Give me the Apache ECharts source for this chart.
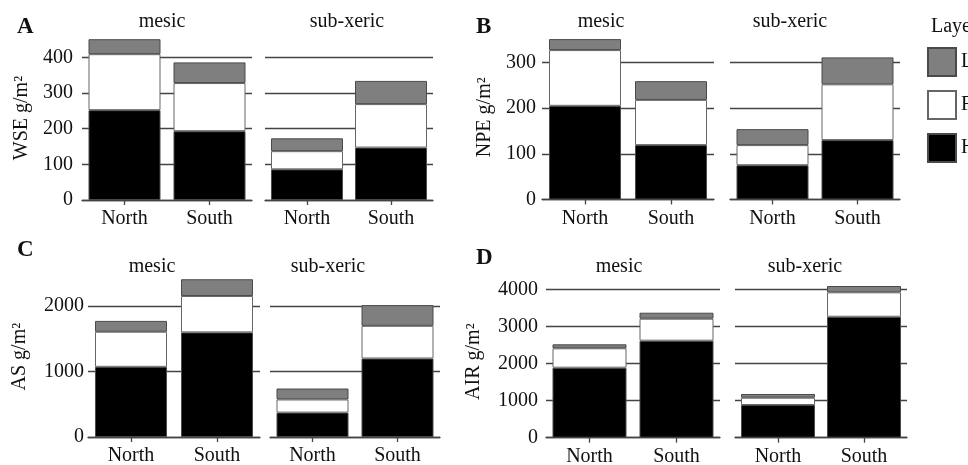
<!DOCTYPE html>
<html>
<head>
<meta charset="utf-8">
<script src="https://cdn.jsdelivr.net/npm/echarts@6/dist/echarts.min.js"></script>
<style>
  html, body { margin: 0; padding: 0; background: #fff; }
  #main { width: 968px; height: 465px; }
</style>
</head>
<body>
<div id="main"></div>
<script>
// categories and groups
var categories = ['North', 'South'];
var regimes = ['mesic', 'sub-xeric'];
var layerNames = ['L', 'F', 'H'];   // legend order, top to bottom

// values: mesic North, mesic South, sub-xeric North, sub-xeric South
var wseH = [252, 193, 86, 147];
var wseF = [157, 135, 51, 122];
var wseL = [42, 58, 36, 65];

var npeH = [205, 119, 75, 130];
var npeF = [122, 99, 44, 122];
var npeL = [24, 41, 35, 59];

var asH = [1070, 1595, 372, 1197];
var asF = [535, 555, 200, 498];
var asL = [165, 255, 167, 316];

var airH = [1887, 2615, 881, 3261];
var airF = [523, 593, 197, 658];
var airL = [107, 161, 100, 170];

// y tick labels per panel
var wseTicks = [0, 100, 200, 300, 400];
var npeTicks = [0, 100, 200, 300];
var asTicks = [0, 1000, 2000];
var airTicks = [0, 1000, 2000, 3000, 4000];

var FONT = "'Liberation Serif', 'Times New Roman', serif";
var FS = 20;

// layout of the 4 panels (pixels)
var panels = [
  { letter: 'A', yName: 'WSE g/m²', H: wseH, F: wseF, L: wseL, ticks: wseTicks, max: 460,
    top: 36, bottom: 200, lefts: [82, 265], widths: [170, 168], barW: 72, nameGap: 50, labelMargin: 9,
    letterPos: [17, 27], regimePos: [[162, 22], [347, 22]] },
  { letter: 'B', yName: 'NPE g/m²', H: npeH, F: npeF, L: npeL, ticks: npeTicks, max: 360,
    top: 35, bottom: 199.5, lefts: [542, 730], widths: [172, 170], barW: 72, nameGap: 47, labelMargin: 6,
    letterPos: [476, 27], regimePos: [[601, 22], [790, 22]] },
  { letter: 'C', yName: 'AS g/m²', H: asH, F: asF, L: asL, ticks: asTicks, max: 2450,
    top: 276.3, bottom: 437, lefts: [88, 270], widths: [172, 170], barW: 72, nameGap: 58, labelMargin: 4,
    letterPos: [17, 250], regimePos: [[152, 267], [328, 267]] },
  { letter: 'D', yName: 'AIR g/m²', H: airH, F: airF, L: airL, ticks: airTicks, max: 4100,
    top: 285.6, bottom: 437.7, lefts: [546, 735], widths: [174, 172], barW: 74, nameGap: 62, labelMargin: 8,
    letterPos: [476, 258], regimePos: [[619, 267], [805, 267]] }
];

var layerStyle = {
  H: { color: '#000000', borderColor: '#4a4a4a', borderWidth: 1 },
  F: { color: '#ffffff', borderColor: '#666666', borderWidth: 1 },
  L: { color: '#7f7f7f', borderColor: '#4a4a4a', borderWidth: 1 }
};

var grids = [], xAxes = [], yAxes = [], series = [], graphics = [];

panels.forEach(function (p) {
  var interval = p.ticks[1] - p.ticks[0];
  for (var s = 0; s < 2; s++) {
    var gi = grids.length;
    grids.push({
      left: p.lefts[s], top: p.top, width: p.widths[s], height: p.bottom - p.top,
      outerBoundsMode: 'none', containLabel: false
    });
    xAxes.push({
      type: 'category', gridIndex: gi, data: categories,
      axisLine: { lineStyle: { color: '#444', width: 1.3 } },
      axisTick: { show: true, alignWithLabel: true, length: 5, lineStyle: { color: '#444', width: 1.3 } },
      axisLabel: { color: '#111', fontSize: FS, fontFamily: FONT, margin: 9 },
      splitLine: { show: false }
    });
    yAxes.push({
      type: 'value', gridIndex: gi, min: 0, max: p.max, interval: interval,
      name: s === 0 ? p.yName : '', nameLocation: 'middle', nameRotate: 90, nameGap: p.nameGap,
      nameTextStyle: { color: '#111', fontSize: FS, fontFamily: FONT },
      axisLine: { show: false }, axisTick: { show: false },
      axisLabel: { show: s === 0, color: '#111', fontSize: FS, fontFamily: FONT,
        margin: p.labelMargin, showMaxLabel: false,
        formatter: function (v) { return String(v); } },
      splitLine: { show: true, showMaxLine: false, lineStyle: { color: '#444', width: 1.3 } }
    });
    ['H', 'F', 'L'].forEach(function (layer) {
      series.push({
        name: layer, type: 'bar', stack: 'p' + gi,
        xAxisIndex: gi, yAxisIndex: gi, barWidth: p.barW,
        itemStyle: layerStyle[layer], silent: true,
        data: p[layer].slice(s * 2, s * 2 + 2)
      });
    });
    graphics.push({
      type: 'text', x: p.regimePos[s][0], y: p.regimePos[s][1],
      style: { text: regimes[s], fill: '#111', font: FS + 'px ' + FONT, textAlign: 'center', textVerticalAlign: 'middle' }
    });
  }
  graphics.push({
    type: 'text', x: p.letterPos[0], y: p.letterPos[1],
    style: { text: p.letter, fill: '#111', font: 'bold 23px ' + FONT, textAlign: 'left', textVerticalAlign: 'middle' }
  });
});

graphics.push({
  type: 'text', x: 931, y: 27,
  style: { text: 'Layer', fill: '#111', font: FS + 'px ' + FONT, textAlign: 'left', textVerticalAlign: 'middle' }
});

var chart = echarts.init(document.getElementById('main'), null, { renderer: 'canvas' });
chart.setOption({
  backgroundColor: '#fff',
  animation: false,
  textStyle: { fontFamily: FONT },
  grid: grids,
  xAxis: xAxes,
  yAxis: yAxes,
  series: series,
  legend: {
    data: layerNames, orient: 'vertical', left: 927, top: 47,
    itemWidth: 28, itemHeight: 28, itemGap: 13, icon: 'rect', padding: 0,
    textStyle: { color: '#111', fontSize: FS, fontFamily: FONT },
    selectedMode: false
  },
  graphic: graphics
});
</script>
</body>
</html>
